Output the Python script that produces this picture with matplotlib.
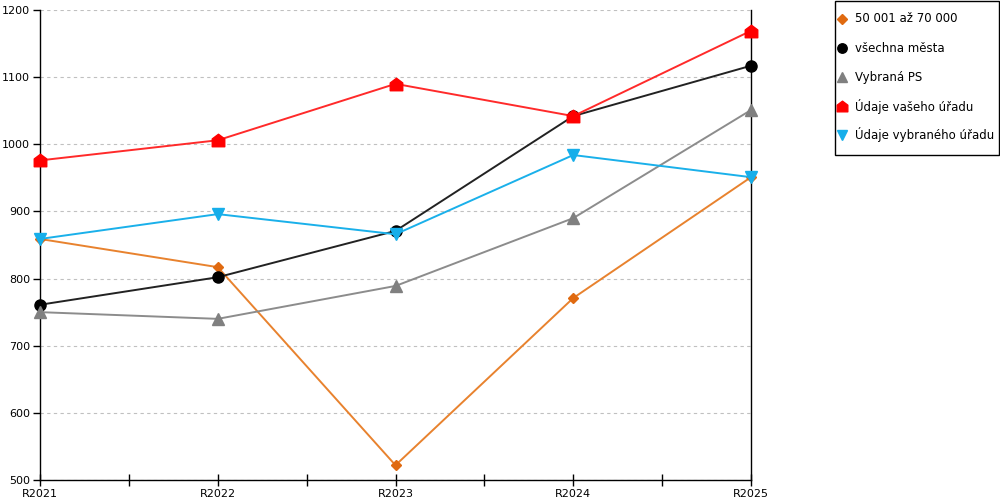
import numpy as np
from matplotlib import pyplot as plt
from matplotlib.lines import Line2D
from matplotlib.patches import Rectangle
from matplotlib.path import Path

plt.rcParams['font.family'] = ['DejaVu Sans']
plt.rcParams['font.size'] = 8

# data
roky = ["R2021", "R2022", "R2023", "R2024", "R2025"]
mesta_50_70 = [859, 817, 522, 771, 951]
vsechna_mesta = [761, 802, 871, 1042, 1117]
vybrana_ps = [750, 740, 789, 890, 1051]
vas_urad = [976, 1006, 1090, 1042, 1169]
vybrany_urad = [859, 896, 866, 984, 951]

nazvy = ["50 001 až 70 000", "všechna města", "Vybraná PS",
         "Údaje vašeho úřadu", "Údaje vybraného úřadu"]

# marker ve tvaru domečku
dum = Path([(-1, -1), (1, -1), (1, 0.25), (0, 1), (-1, 0.25), (-1, -1)],
           [Path.MOVETO, Path.LINETO, Path.LINETO, Path.LINETO, Path.LINETO, Path.CLOSEPOLY])

styly = [
    dict(color='#e8822e', mfc='#e06a10', mec='#e06a10', marker='D', ms=5.5),
    dict(color='#222222', mfc='black', mec='black', marker='o', ms=8),
    dict(color='#8c8c8c', mfc='#808080', mec='#808080', marker='^', ms=9),
    dict(color='#ff2a2a', mfc='#ff0000', mec='#ff0000', marker=dum, ms=9),
    dict(color='#1ab0ea', mfc='#16aeea', mec='#16aeea', marker='v', ms=9),
]

fig = plt.figure(figsize=(10, 5), dpi=100)
ax = fig.add_axes([0.04, 0.04, 0.711, 0.94])

x = np.arange(len(roky))
serie = [mesta_50_70, vsechna_mesta, vybrana_ps, vas_urad, vybrany_urad]
for hodnoty, st in zip(serie, styly):
    ax.plot(x, hodnoty, lw=1.4, color=st['color'], marker=st['marker'],
            ms=st['ms'], mfc=st['mfc'], mec=st['mec'], clip_on=False, zorder=3)

ax.set_xlim(0, 4)
ax.set_ylim(500, 1200)
ax.set_yticks(range(500, 1201, 100))
ax.set_xticks(x)
ax.set_xticklabels(roky)
ax.set_xticks([0.5, 1.5, 2.5, 3.5], minor=True)
ax.tick_params(axis='x', which='both', direction='inout', length=9, width=1, pad=2)
ax.tick_params(axis='y', direction='out', length=5, width=1, pad=2)

ax.yaxis.grid(True, linestyle=(0, (3, 3)), color='#c0c0c0', lw=0.8)
ax.set_axisbelow(True)
ax.spines['top'].set_visible(False)
for s in ['left', 'bottom', 'right']:
    ax.spines[s].set_linewidth(1)
    ax.spines[s].set_color('black')

# legenda - rucne, aby byly radky rovnomerne
fig.patches.append(Rectangle((0.835, 0.69), 0.164, 0.308, transform=fig.transFigure,
                             fill=False, edgecolor='black', lw=1))
for i, (nazev, st) in enumerate(zip(nazvy, styly)):
    yy = 1 - (19 + 29 * i) / 500
    fig.add_artist(Line2D([0.842], [yy], transform=fig.transFigure, ls='none',
                          marker=st['marker'], ms=st['ms'] * 0.85,
                          mfc=st['mfc'], mec=st['mec']))
    fig.text(0.855, yy, nazev, ha='left', va='center', fontsize=8.5)

plt.savefig('out.png', dpi=100)
